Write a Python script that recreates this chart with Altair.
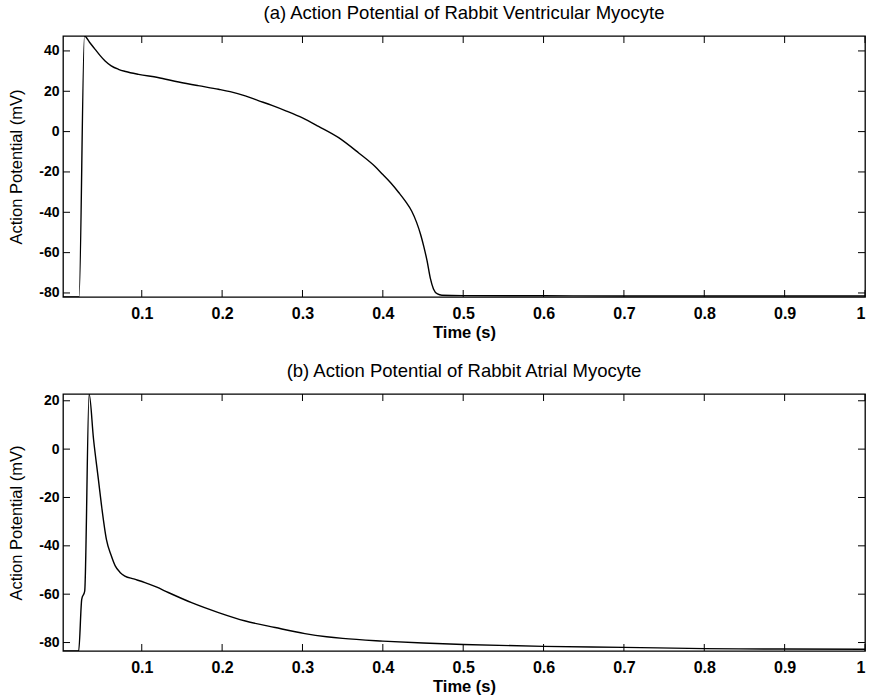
import altair as alt
import pandas as pd

# ---------------- data ----------------
t_vent = [0.002, 0.022, 0.0287, 0.035, 0.042, 0.048, 0.0544, 0.062, 0.071, 0.080,
          0.096, 0.120, 0.146, 0.170, 0.1955, 0.210, 0.2288, 0.245, 0.262, 0.280,
          0.300, 0.320, 0.345, 0.370, 0.390, 0.400, 0.410, 0.420, 0.428, 0.436,
          0.442, 0.447, 0.451, 0.455, 0.459, 0.463, 0.468, 0.4735, 0.500, 0.600,
          0.700, 0.800, 0.900, 1.000]
v_vent = [-82.0, -82.0, 47.4, 44.3, 40.8, 37.8, 35.0, 32.6, 30.9, 29.8,
          28.4, 26.8, 24.6, 22.8, 21.0, 19.8, 17.7, 15.4, 13.0, 10.2,
          6.8, 2.6, -3.0, -10.6, -17.2, -21.3, -25.5, -30.3, -34.5, -39.5,
          -45.0, -51.0, -57.0, -64.0, -72.5, -78.0, -80.5, -81.1, -81.3, -81.4,
          -81.5, -81.5, -81.5, -81.5]

t_atr = [0.002, 0.0215, 0.0253, 0.029, 0.0345, 0.040, 0.046, 0.050, 0.056, 0.062,
         0.067, 0.073, 0.079, 0.090, 0.104, 0.118, 0.133, 0.162, 0.1955, 0.229,
         0.266, 0.303, 0.330, 0.350, 0.400, 0.450, 0.500, 0.600, 0.700, 0.800,
         0.900, 1.000]
v_atr = [-83.5, -83.5, -62.1, -58.7, 22.8, 4.1, -12.4, -23.5, -37.3, -44.0,
         -48.3, -51.0, -52.5, -53.7, -55.2, -57.0, -59.3, -63.5, -67.6, -71.1,
         -73.8, -76.3, -77.6, -78.3, -79.4, -80.2, -80.8, -81.6, -82.0, -82.5,
         -82.7, -82.8]

x_ticks = [0.1, 0.2, 0.3, 0.4, 0.5, 0.6, 0.7, 0.8, 0.9, 1.0]
y_ticks_vent = [-80, -60, -40, -20, 0, 20, 40]
y_ticks_atr = [-80, -60, -40, -20, 0, 20]
x_domain = [0.002, 1.0]
y_domain_vent = [-82.0, 47.4]
y_domain_atr = [-83.5, 22.8]

title_a = "(a) Action Potential of Rabbit Ventricular Myocyte"
title_b = "(b) Action Potential of Rabbit Atrial Myocyte"

FONT = "Liberation Sans"
W = 802
TICK = 7


def panel(t, v, yticks, ydom, title, h):
    df = pd.DataFrame({"t": t, "v": v})
    xs = alt.Scale(domain=x_domain, nice=False, zero=False)
    ys = alt.Scale(domain=ydom, nice=False, zero=False)
    xax = alt.Axis(values=x_ticks, title="Time (s)",
                   labelExpr="datum.value == 1 ? '1' : format(datum.value, '.1f')")
    yax = alt.Axis(values=yticks, title="Action Potential (mV)",
                   labelExpr="datum.value < 0 ? '-' + format(-datum.value, 'd') : format(datum.value, 'd')")
    line = alt.Chart(df).mark_line(
        color="black", strokeWidth=1.4, interpolate="monotone", clip=True
    ).encode(
        x=alt.X("t:Q", scale=xs, axis=xax),
        y=alt.Y("v:Q", scale=ys, axis=yax),
    )
    xt = pd.DataFrame({"t": x_ticks})
    yt = pd.DataFrame({"v": yticks})
    xb = alt.Chart(xt).mark_rule(color="black", strokeWidth=1).encode(
        x=alt.X("t:Q", scale=xs, axis=xax), y=alt.value(h), y2=alt.value(h - TICK))
    xtp = alt.Chart(xt).mark_rule(color="black", strokeWidth=1).encode(
        x=alt.X("t:Q", scale=xs, axis=xax), y=alt.value(0), y2=alt.value(TICK))
    yl = alt.Chart(yt).mark_rule(color="black", strokeWidth=1).encode(
        y=alt.Y("v:Q", scale=ys, axis=yax), x=alt.value(0), x2=alt.value(TICK))
    yr = alt.Chart(yt).mark_rule(color="black", strokeWidth=1).encode(
        y=alt.Y("v:Q", scale=ys, axis=yax), x=alt.value(W), x2=alt.value(W - TICK))
    return alt.layer(line, xb, xtp, yl, yr).properties(
        width=W, height=h,
        title=alt.TitleParams(title, font=FONT, fontSize=18.5, fontWeight="normal",
                              color="black", anchor="middle", offset=13),
    )


top = panel(t_vent, v_vent, y_ticks_vent, y_domain_vent, title_a, 261)
bottom = panel(t_atr, v_atr, y_ticks_atr, y_domain_atr, title_b, 257)

chart = alt.vconcat(top, bottom, spacing=19).configure(
    padding={"left": 8, "top": 3, "right": 0, "bottom": 0},
    background="white",
).configure_view(
    stroke="black", strokeWidth=1.3
).configure_axis(
    domain=False, grid=False, ticks=False,
    labelFont=FONT, labelFontWeight="bold", labelColor="black",
    titleFont=FONT, titleColor="black",
).configure_axisX(
    labelFontSize=16, labelPadding=8, titlePadding=3,
    titleFontSize=16.5, titleFontWeight="bold"
).configure_axisY(
    labelFontSize=14, labelPadding=4, titlePadding=14,
    titleFontSize=16.5, titleFontWeight="normal"
)

chart.save("out.html", embed_options={"renderer": "svg", "actions": False})
